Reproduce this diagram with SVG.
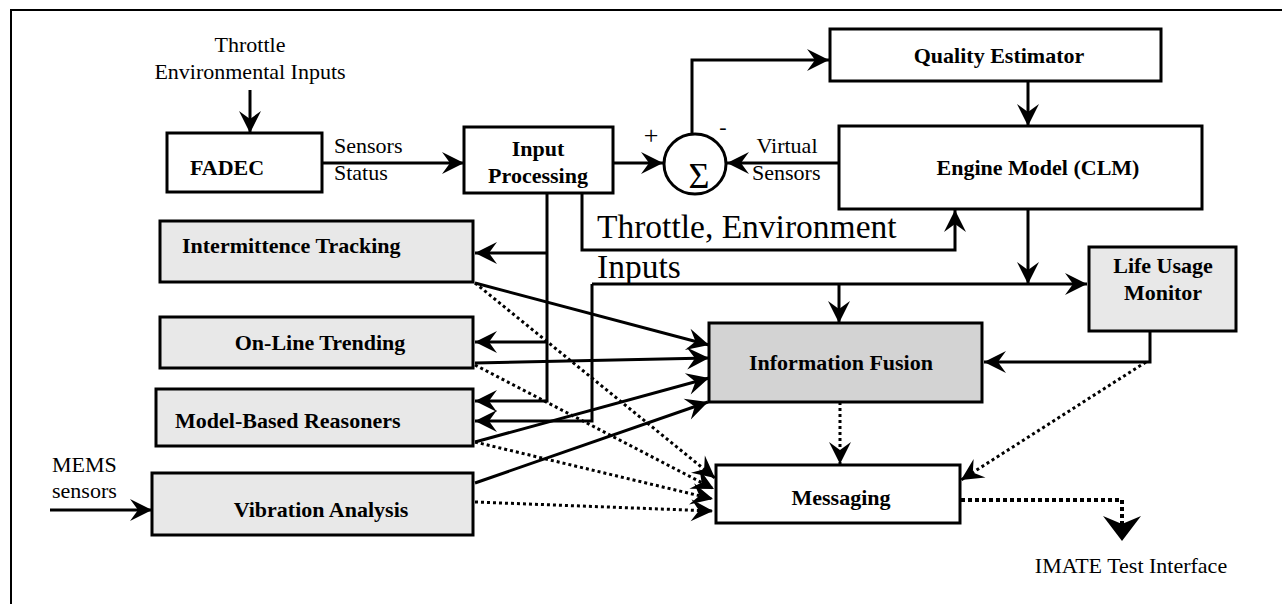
<svg xmlns="http://www.w3.org/2000/svg" width="1282" height="604" viewBox="0 0 1282 604">
<style>
.box{stroke:#000;stroke-width:3;fill:#fff}
.lt{fill:#e8e8e8}
.dk{fill:#d3d3d3}
.t{font-family:"Liberation Serif","Times New Roman",serif;font-size:22px;fill:#000}
.b{font-weight:bold}
.m{text-anchor:middle}
.ln{fill:none;stroke:#000;stroke-width:3;marker-end:url(#ah)}
.pl{fill:none;stroke:#000;stroke-width:3}
.dt{fill:none;stroke:#000;stroke-width:3;stroke-dasharray:3 3;marker-end:url(#ah)}
</style>
<defs>
<marker id="ah" markerUnits="userSpaceOnUse" markerWidth="26" markerHeight="26" viewBox="-23 -12 26 24" refX="0" refY="0" orient="auto" overflow="visible">
<path d="M0,0 L-22,-11 L-14,0 L-22,11 Z" fill="#000"/>
</marker>
</defs>
<rect x="11" y="10" width="1290" height="620" fill="#fff" stroke="#000" stroke-width="2"/>

<g id="connectors">
<line class="ln" x1="250" y1="90" x2="250" y2="133"/>
<line class="ln" x1="322" y1="163" x2="464" y2="163"/>
<line class="ln" x1="613" y1="163" x2="663" y2="163"/>
<path class="ln" d="M692,133 V60 H829"/>
<line class="ln" x1="840" y1="163" x2="727" y2="163"/>
<line class="ln" x1="1028" y1="81" x2="1028" y2="126"/>
<path class="ln" d="M582,193 V250 H955 V210"/>
<line class="ln" x1="1028" y1="209" x2="1028" y2="284"/>
<path class="ln" d="M592,284 H1087"/>
<path class="ln" d="M592,284 V421 H475"/>
<line class="ln" x1="839" y1="284" x2="839" y2="323"/>
<path class="ln" d="M547,193 V401 H475"/>
<line class="ln" x1="547" y1="253" x2="475" y2="253"/>
<line class="ln" x1="547" y1="342" x2="475" y2="342"/>
<path class="ln" d="M1150,331 V362 H984"/>
<line class="ln" x1="475" y1="283" x2="709" y2="345"/>
<line class="ln" x1="475" y1="363" x2="709" y2="358"/>
<line class="ln" x1="475" y1="442" x2="709" y2="378"/>
<line class="ln" x1="475" y1="483" x2="708" y2="402"/>
<line class="ln" x1="50" y1="510" x2="152" y2="510"/>
<line class="dt" x1="840" y1="402" x2="840" y2="464"/>
<line class="dt" x1="475" y1="283" x2="715" y2="478"/>
<line class="dt" x1="475" y1="365" x2="714" y2="489"/>
<line class="dt" x1="475" y1="442" x2="713" y2="499"/>
<line class="dt" x1="475" y1="502" x2="713" y2="511"/>
<line class="dt" x1="1146" y1="362" x2="961" y2="480"/>
<path d="M961,500 H1122 V524" fill="none" stroke="#000" stroke-width="4" stroke-dasharray="4 3"/>
<path d="M1122,541 L1103,516 L1122,524 L1141,516 Z" fill="#000"/>
</g>

<g id="labels">
<text class="t m" x="250" y="52">Throttle</text>
<text class="t m" x="250" y="79">Environmental Inputs</text>
<text class="t" x="334" y="153">Sensors</text>
<text class="t" x="334" y="180">Status</text>
<text class="t" x="651" y="144" style="font-size:26px" text-anchor="middle">+</text>
<text class="t m" x="723" y="134">-</text>
<text class="t m" x="787" y="153">Virtual</text>
<text class="t" x="752" y="180">Sensors</text>
<text class="t" x="597" y="238" style="font-size:33.5px">Throttle, Environment</text>
<text class="t" x="597" y="278" style="font-size:33.5px">Inputs</text>
<text class="t" x="52" y="472">MEMS</text>
<text class="t" x="52" y="498">sensors</text>
<text class="t m" x="1131" y="573">IMATE Test Interface</text>
</g>

<g id="fadec"><rect class="box" x="167" y="133" width="155" height="59"/><text class="t b" x="190" y="175">FADEC</text></g>
<g id="input-processing"><rect class="box" x="464" y="127" width="149" height="66"/><text class="t b m" x="538" y="156">Input</text><text class="t b m" x="538" y="183">Processing</text></g>
<g id="sum"><ellipse cx="695" cy="164" rx="31" ry="30" fill="#fff" stroke="#000" stroke-width="3"/><text class="t m" x="699" y="188" style="font-size:36px">Σ</text></g>
<g id="quality-estimator"><rect class="box" x="830" y="29" width="331" height="52"/><text class="t b m" x="999" y="63">Quality Estimator</text></g>
<g id="engine-model"><rect class="box" x="839" y="126" width="363" height="83"/><text class="t b m" x="1038" y="175">Engine Model (CLM)</text></g>
<g id="intermittence-tracking"><rect class="box lt" x="160" y="221" width="313" height="61"/><text class="t b" x="182" y="253">Intermittence Tracking</text></g>
<g id="online-trending"><rect class="box lt" x="160" y="317" width="313" height="51"/><text class="t b m" x="320" y="350">On-Line Trending</text></g>
<g id="model-based-reasoners"><rect class="box lt" x="156" y="389" width="317" height="57"/><text class="t b" x="175" y="428">Model-Based Reasoners</text></g>
<g id="vibration-analysis"><rect class="box lt" x="152" y="473" width="321" height="62"/><text class="t b m" x="321" y="517">Vibration Analysis</text></g>
<g id="information-fusion"><rect class="box dk" x="709" y="323" width="273" height="79"/><text class="t b m" x="841" y="370">Information Fusion</text></g>
<g id="life-usage-monitor"><rect class="box lt" x="1089" y="247" width="147" height="84"/><text class="t b m" x="1163" y="273">Life Usage</text><text class="t b m" x="1163" y="300">Monitor</text></g>
<g id="messaging"><rect class="box" x="716" y="465" width="244" height="58"/><text class="t b m" x="841" y="505">Messaging</text></g>
</svg>
